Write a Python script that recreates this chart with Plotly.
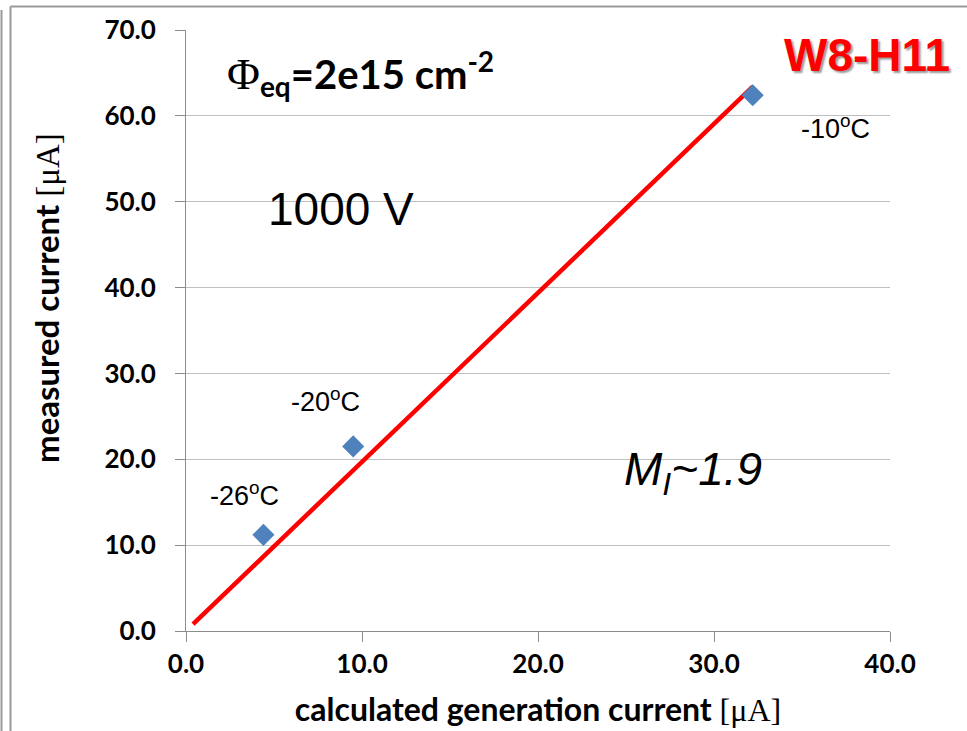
import plotly.graph_objects as go

# Measured vs. calculated generation current, W8-H11 at 1000 V
calc_current = [4.4, 9.5, 32.2]          # calculated generation current [uA]
meas_current = [11.2, 21.5, 62.4]        # measured current [uA]
temp_labels = ["-26<sup>o</sup>C", "-20<sup>o</sup>C", "-10<sup>o</sup>C"]
label_shift_x = [-19, -28, 83]
label_shift_y = [41, 46, -32]

# straight-line fit through the points
fit_x = [0.4, 32.2]
fit_y = [0.8, 63.4]

x_ticks = [0, 10, 20, 30, 40]
y_ticks = [0, 10, 20, 30, 40, 50, 60, 70]

W, H = 967, 731
ML, MR, MT, MB = 186, 77, 30, 100

BODY = "Lato, Open Sans, sans-serif"
ARIAL = "Liberation Sans, Arial, sans-serif"
SERIF = "Liberation Serif, serif"

fig = go.Figure()

fig.add_trace(go.Scatter(
    x=fit_x, y=fit_y, mode="lines",
    line=dict(color="#FF0000", width=4.5),
    hoverinfo="skip", showlegend=False,
))

fig.add_trace(go.Scatter(
    x=calc_current, y=meas_current, mode="markers",
    marker=dict(symbol="diamond", size=17, color="#4F81BD"),
    showlegend=False, cliponaxis=False,
))

for xv, yv, txt, dx, dy in zip(calc_current, meas_current, temp_labels,
                               label_shift_x, label_shift_y):
    fig.add_annotation(x=xv, y=yv, text=txt, showarrow=False,
                       xshift=dx, yshift=dy,
                       font=dict(family=ARIAL, size=27, color="black"))

fig.add_annotation(
    x=2.2, y=64.9, xanchor="left", yanchor="middle", showarrow=False,
    text=(f'<span style="font-family:{SERIF};font-weight:normal;font-size:45px">Φ</span>'
          "<sub>eq</sub>=2e15 cm<sup>-2</sup>"),
    font=dict(family=BODY, size=40, color="black", weight="bold"),
)
fig.add_annotation(
    x=8.8, y=49.2, showarrow=False, text="1000 V",
    font=dict(family=ARIAL, size=46, color="black"),
)
fig.add_annotation(
    x=28.8, y=18.5, showarrow=False, text="<i>M<sub>I</sub>~1.9</i>",
    font=dict(family=ARIAL, size=46, color="black"),
)
fig.add_annotation(
    x=38.7, y=67.1, showarrow=False, text="<b>W8-H11</b>",
    font=dict(family=ARIAL, size=46, color="#FF0000",
              shadow="2px 2px 2px #999999"),
)


def px_x(p):
    return (p - ML) / (W - ML - MR)


def px_y(p):
    return (H - MB - p) / (H - MT - MB)


# slide frame around the chart
frame = dict(type="line", xref="paper", yref="paper",
             line=dict(color="#999999", width=2), layer="above")
fig.add_shape(x0=px_x(1.5), x1=px_x(1.5), y0=px_y(10), y1=px_y(H + 2), **frame)
fig.add_shape(x0=px_x(10.5), x1=px_x(10.5), y0=px_y(6.5), y1=px_y(H + 2), **frame)
fig.add_shape(x0=px_x(10.5), x1=px_x(W + 2), y0=px_y(6.5), y1=px_y(6.5), **frame)

MU = f'<span style="font-family:{SERIF};font-weight:normal">[μA]</span>'

# vertical axis title, set as a rotated label left of the tick labels
fig.add_annotation(
    xref="paper", yref="paper", x=px_x(46), y=px_y(298),
    xanchor="center", yanchor="middle",
    text="measured current " + MU, textangle=-90, showarrow=False,
    font=dict(family=BODY, size=33, color="black", weight="bold"),
)

fig.update_xaxes(
    range=[0, 40], tickvals=x_ticks, ticktext=[f"{v:.1f}" for v in x_ticks],
    showgrid=False, zeroline=False, showline=True, linecolor="#8C8C8C",
    linewidth=1, ticks="outside", ticklen=10, tickcolor="#8C8C8C",
    tickfont=dict(family=BODY, size=26, color="black", weight="bold"),
    automargin=False,
    title=dict(
        text="calculated generation current " + MU,
        font=dict(family=BODY, size=32, color="black", weight="bold"),
        standoff=20),
)
fig.update_yaxes(
    range=[0, 70], tickvals=y_ticks, ticktext=[f"{v:.1f}" for v in y_ticks],
    showgrid=True, gridcolor="#BFBFBF", gridwidth=1, zeroline=False,
    showline=True, linecolor="#8C8C8C", linewidth=1,
    ticks="outside", ticklen=10, tickcolor="#8C8C8C", ticklabelstandoff=14,
    tickfont=dict(family=BODY, size=26, color="black", weight="bold"),
    automargin=False,
)

fig.update_layout(
    width=W, height=H,
    margin=dict(l=ML, r=MR, t=MT, b=MB, pad=0),
    paper_bgcolor="white", plot_bgcolor="white",
)

fig.write_html("out.html")
